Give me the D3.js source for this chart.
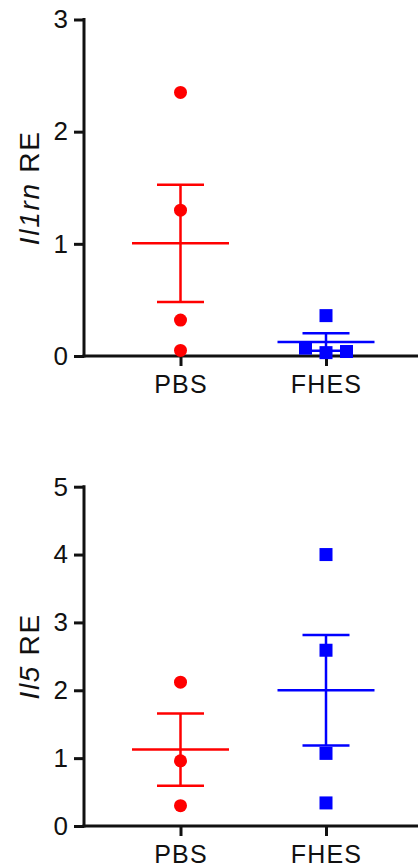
<!DOCTYPE html>
<html>
<head>
<meta charset="utf-8">
<script src="https://cdn.jsdelivr.net/npm/d3@7"></script>
<style>
  html, body { margin: 0; padding: 0; background: #fff; }
  svg { display: block; }
  text { font-family: Arial, "Liberation Sans", Helvetica, sans-serif; fill: #111; }
</style>
</head>
<body>
<svg id="chart" width="418" height="867"></svg>
<script>
// Groups on the x axis
const categories = ["PBS", "FHES"];

// Il1rn relative expression per animal
const il1rnPBS  = [2.35, 1.30, 0.32, 0.05];
const il1rnFHES = [0.36, 0.07, 0.03, 0.04];
const il1rnTicks = [0, 1, 2, 3];

// Il5 relative expression per animal
const il5PBS  = [2.12, 0.96, 0.30];
const il5FHES = [4.00, 2.59, 1.07, 0.34];
const il5Ticks = [0, 1, 2, 3, 4, 5];

const RED = "#ff0000", BLUE = "#0000ff", INK = "#111";
const svg = d3.select("#chart");

const axisX0 = 84, axisX1 = 418;
const x = d3.scalePoint().domain(categories).range([180.5, 326]);

const markerSize = 13;      // circle diameter / square side
const slotStep = 20.5;      // horizontal spacing of overlapping markers
const meanHalf = 48.5, capHalf = 23.5;

// Spread markers that would overlap vertically (simple beeswarm)
function swarm(values, y) {
  const order = d3.range(values.length).sort((a, b) => values[a] - values[b]);
  const placed = [];
  const offs = new Array(values.length).fill(0);
  const slots = [0, 1, -1, 2, -2, 3, -3];
  order.forEach(i => {
    const py = y(values[i]);
    for (const k of slots) {
      const clash = placed.some(p => p.k === k && Math.abs(p.y - py) < markerSize);
      if (!clash) { placed.push({ k, y: py }); offs[i] = k * slotStep; break; }
    }
  });
  return offs;
}

function panel(cfg) {
  const g = svg.append("g");
  const y = d3.scaleLinear().domain(cfg.domain).range(cfg.range);

  // Y axis
  const yAxis = d3.axisLeft(y).tickValues(cfg.ticks).tickFormat(d3.format("d"))
    .tickSize(10).tickSizeOuter(0).tickPadding(6);
  const ya = g.append("g").attr("transform", `translate(${axisX0},0)`).call(yAxis);
  ya.select(".domain").attr("stroke", INK).attr("stroke-width", 3)
    .attr("d", `M0,${y(cfg.domain[1]) - 1.5}V${y(0) + 1.5}`);
  ya.selectAll(".tick line").attr("stroke", INK).attr("stroke-width", 3);
  ya.selectAll(".tick text").attr("font-size", 26).attr("fill", INK)
    .attr("font-family", "Arial, 'Liberation Sans', sans-serif");

  // X axis baseline + group ticks
  g.append("line").attr("x1", axisX0 - 1.5).attr("x2", axisX1)
    .attr("y1", y(0)).attr("y2", y(0)).attr("stroke", INK).attr("stroke-width", 3);
  const xAxis = d3.axisBottom(x).tickSize(10).tickPadding(9).tickSizeOuter(0);
  const xa = g.append("g").attr("transform", `translate(0,${y(0)})`).call(xAxis);
  xa.select(".domain").remove();
  xa.selectAll(".tick line").attr("stroke", INK).attr("stroke-width", 3);
  xa.selectAll(".tick text").attr("font-size", 25).attr("fill", INK)
    .attr("letter-spacing", "1.2px")
    .attr("font-family", "Arial, 'Liberation Sans', sans-serif");

  // Y label (gene name in italics)
  const mid = (y(cfg.domain[0]) + y(cfg.domain[1])) / 2;
  const lab = g.append("text")
    .attr("transform", `translate(39,${mid}) rotate(-90)`)
    .attr("text-anchor", "middle").attr("font-size", 28)
    .attr("letter-spacing", "1.7px").style("white-space", "pre");
  lab.append("tspan").attr("font-style", "italic").text(cfg.gene);
  lab.append("tspan").text(" RE");

  // Groups: mean ± SEM and individual points
  cfg.groups.forEach(grp => {
    const cx = x(grp.name);
    const m = d3.mean(grp.values);
    const sem = d3.deviation(grp.values) / Math.sqrt(grp.values.length);
    const lines = g.append("g").attr("stroke", grp.color).attr("stroke-width", 2.5);
    lines.append("line").attr("x1", cx).attr("x2", cx).attr("y1", y(m - sem)).attr("y2", y(m + sem));
    lines.append("line").attr("x1", cx - meanHalf).attr("x2", cx + meanHalf).attr("y1", y(m)).attr("y2", y(m));
    [m - sem, m + sem].forEach(v => {
      lines.append("line").attr("x1", cx - capHalf).attr("x2", cx + capHalf).attr("y1", y(v)).attr("y2", y(v));
    });

    const offs = swarm(grp.values, y);
    if (grp.shape === "circle") {
      g.selectAll(null).data(grp.values).join("circle")
        .attr("cx", (d, i) => cx + offs[i]).attr("cy", d => y(d))
        .attr("r", markerSize / 2).attr("fill", grp.color);
    } else {
      g.selectAll(null).data(grp.values).join("rect")
        .attr("x", (d, i) => cx + offs[i] - markerSize / 2).attr("y", d => y(d) - markerSize / 2)
        .attr("width", markerSize).attr("height", markerSize).attr("fill", grp.color);
    }
  });
}

panel({
  gene: "Il1rn", domain: [0, 3], range: [356, 19.5], ticks: il1rnTicks,
  groups: [
    { name: "PBS",  values: il1rnPBS,  color: RED,  shape: "circle" },
    { name: "FHES", values: il1rnFHES, color: BLUE, shape: "square" }
  ]
});

panel({
  gene: "Il5", domain: [0, 5], range: [826, 486.7], ticks: il5Ticks,
  groups: [
    { name: "PBS",  values: il5PBS,  color: RED,  shape: "circle" },
    { name: "FHES", values: il5FHES, color: BLUE, shape: "square" }
  ]
});
</script>
</body>
</html>
